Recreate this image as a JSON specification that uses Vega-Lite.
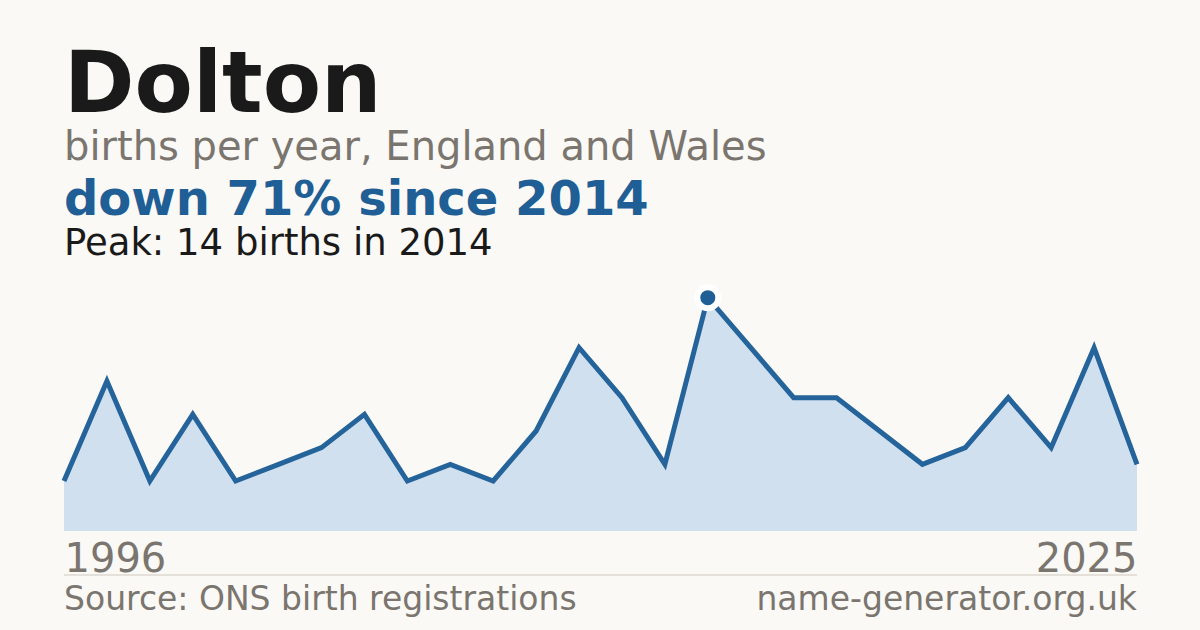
{
  "$schema": "https://vega.github.io/schema/vega-lite/v6.json",
  "background": "#faf9f5",
  "padding": {"left": 54, "right": 53, "top": 44, "bottom": 13},
  "autosize": {"type": "pad"},
  "title": {
    "text": "Dolton",
    "subtitle": "births per year, England and Wales",
    "anchor": "start",
    "frame": "group",
    "font": "DejaVu Sans",
    "fontSize": 85,
    "fontWeight": "bold",
    "color": "#1a1a1a",
    "subtitleFont": "DejaVu Sans",
    "subtitleFontSize": 40,
    "subtitleFontWeight": "normal",
    "subtitleColor": "#7a756e",
    "subtitlePadding": -2,
    "offset": 8
  },
  "datasets": {
    "births": [
      {"year": 1996, "births": 3},
      {"year": 1997, "births": 9},
      {"year": 1998, "births": 3},
      {"year": 2000, "births": 7},
      {"year": 2001, "births": 3},
      {"year": 2002, "births": 4},
      {"year": 2003, "births": 5},
      {"year": 2005, "births": 7},
      {"year": 2006, "births": 3},
      {"year": 2007, "births": 4},
      {"year": 2008, "births": 3},
      {"year": 2010, "births": 6},
      {"year": 2011, "births": 11},
      {"year": 2012, "births": 8},
      {"year": 2013, "births": 4},
      {"year": 2014, "births": 14},
      {"year": 2015, "births": 11},
      {"year": 2016, "births": 8},
      {"year": 2017, "births": 8},
      {"year": 2018, "births": 6},
      {"year": 2019, "births": 4},
      {"year": 2021, "births": 5},
      {"year": 2022, "births": 8},
      {"year": 2023, "births": 5},
      {"year": 2024, "births": 11},
      {"year": 2025, "births": 4}
    ]
  },
  "vconcat": [
    {
      "width": 1073,
      "height": 250,
      "data": {"name": "births"},
      "title": {
        "text": "down 71% since 2014",
        "subtitle": "Peak: 14 births in 2014",
        "anchor": "start",
        "frame": "group",
        "font": "DejaVu Sans",
        "fontSize": 48,
        "fontWeight": "bold",
        "color": "#1f5f96",
        "subtitleFont": "DejaVu Sans",
        "subtitleFontSize": 37,
        "subtitleColor": "#1a1a1a",
        "subtitlePadding": 1,
        "offset": 19
      },
      "encoding": {
        "x": {
          "field": "year",
          "type": "ordinal",
          "scale": {"type": "point", "padding": 0},
          "axis": {
            "values": [1996, 2025],
            "title": null,
            "labelAngle": 0,
            "labelFont": "DejaVu Sans",
            "labelFontSize": 40,
            "labelColor": "#7a756e",
            "labelFlush": true,
            "labelPadding": 8,
            "ticks": false,
            "domain": false,
            "grid": false
          }
        },
        "y": {
          "field": "births",
          "type": "quantitative",
          "scale": {"domain": [0, 15]},
          "axis": null
        }
      },
      "layer": [
        {"mark": {"type": "area", "color": "#d0e0ef"}},
        {"mark": {"type": "line", "color": "#25639b", "strokeWidth": 5, "strokeJoin": "miter"}},
        {
          "transform": [{"filter": "datum.year == 2014"}],
          "mark": {"type": "point", "shape": "circle", "filled": true, "color": "#1f5f96", "opacity": 1, "size": 441, "stroke": "#ffffff", "strokeWidth": 6, "strokeJoin": "round"}
        }
      ]
    },
    {
      "width": 1073,
      "height": 35,
      "data": {
        "values": [
          {"label": "Source: ONS birth registrations", "side": "left"},
          {"label": "name-generator.org.uk", "side": "right"}
        ]
      },
      "encoding": {
        "y": {"datum": 0, "type": "quantitative", "scale": {"domain": [0, 1]}, "axis": null}
      },
      "layer": [
        {
          "mark": {"type": "rule", "color": "#ddd8cf", "strokeWidth": 1},
          "encoding": {
            "x": {"datum": 0, "type": "quantitative", "scale": {"domain": [0, 1]}, "axis": null},
            "x2": {"datum": 1},
            "y": {"datum": 1, "type": "quantitative"}
          }
        },
        {
          "transform": [{"filter": "datum.side == 'left'"}],
          "mark": {"type": "text", "align": "left", "baseline": "alphabetic", "font": "DejaVu Sans", "fontSize": 33, "color": "#7a756e"},
          "encoding": {
            "x": {"datum": 0, "type": "quantitative"},
            "text": {"field": "label"}
          }
        },
        {
          "transform": [{"filter": "datum.side == 'right'"}],
          "mark": {"type": "text", "align": "right", "baseline": "alphabetic", "font": "DejaVu Sans", "fontSize": 33, "color": "#7a756e"},
          "encoding": {
            "x": {"datum": 1, "type": "quantitative"},
            "text": {"field": "label"}
          }
        }
      ]
    }
  ],
  "bounds": "flush",
  "spacing": 44,
  "config": {"view": {"stroke": null}, "font": "DejaVu Sans"}
}
